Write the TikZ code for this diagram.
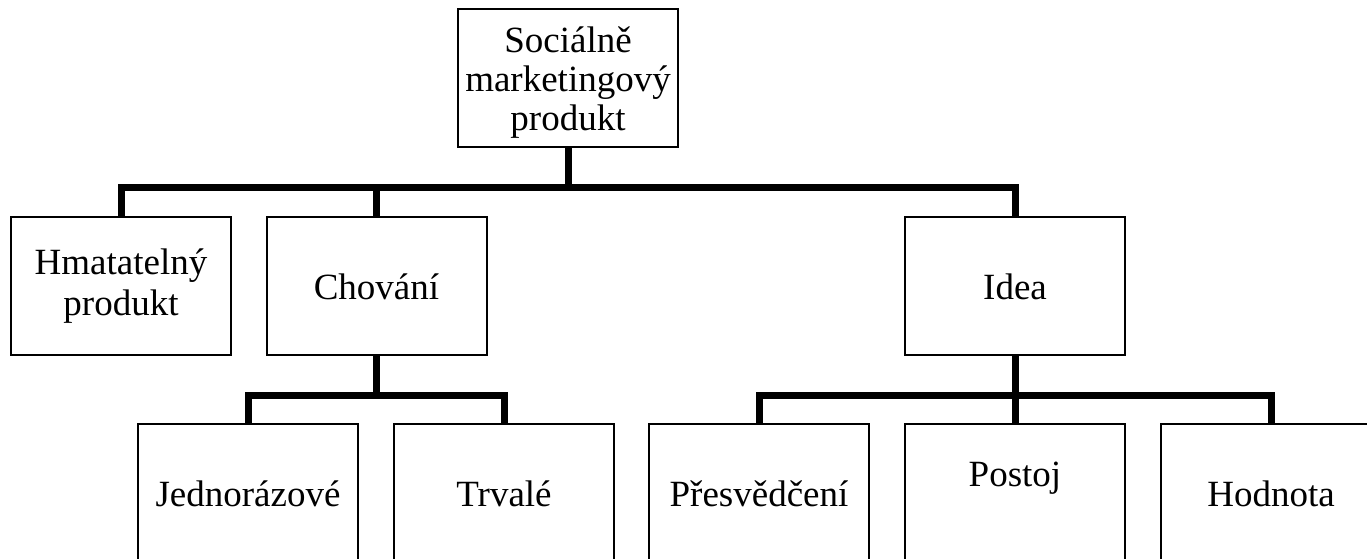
\documentclass[tikz,border=0pt]{standalone}
\usepackage{fontspec}
\setmainfont{Liberation Serif}
\begin{document}
\begin{tikzpicture}[x=1pt,y=-1pt,
  box/.style={draw, line width=2pt, minimum width=220pt, minimum height=138pt,
    inner sep=0pt, align=center, font=\fontsize{37}{41}\selectfont},
  oneline/.style={text height=26pt, text depth=0pt},
  boxtext/.style={inner sep=0pt, align=center, font=\fontsize{37}{39}\selectfont},
  conn/.style={line width=7pt, line join=miter}]
\useasboundingbox (0,0) rectangle (1367,559);
\clip (0,0) rectangle (1367,559);
% top
\node[box, label={[name=rootT, boxtext, yshift=-5pt]center:Sociálně\\marketingový\\produkt}] (root) at (568,78) {};
% middle row
\node[box] (hm) at (121,286) {Hmatatelný\\produkt};
\node[box,oneline] (chov) at (376.5,286) {Chování};
\node[box,oneline] (idea) at (1015,286) {Idea};
% bottom row
\node[box,oneline] (jed) at (248,493) {Jednorázové};
\node[box,oneline] (trv) at (504,493) {Trvalé};
\node[box,oneline] (pre) at (759,493) {Přesvědčení};
\node[box,text height=26pt,text depth=40pt] (pos) at (1015,493) {Postoj};
\node[box,oneline] (hod) at (1271,493) {Hodnota};
% junctions
\coordinate (j1) at (568,187);
\coordinate (j2) at (376.5,395);
\coordinate (j3) at (1015,395);
% connectors
\draw[conn] (root.south) -- (j1);
\draw[conn] (hm.north) |- (j1) -| (idea.north);
\draw[conn] (chov.north) -- (chov.north |- j1);
\draw[conn] (chov.south) -- (j2);
\draw[conn] (jed.north) |- (j2) -| (trv.north);
\draw[conn] (idea.south) -- (j3);
\draw[conn] (pre.north) |- (j3) -| (hod.north);
\draw[conn] (pos.north) -- (j3);
\end{tikzpicture}
\end{document}
